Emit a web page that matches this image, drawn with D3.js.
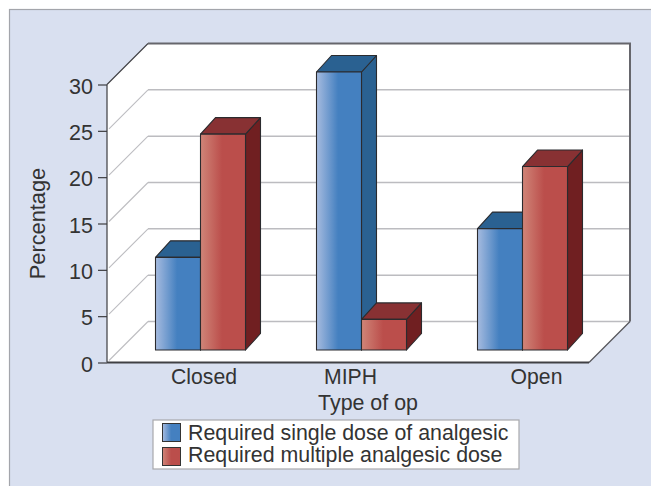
<!DOCTYPE html>
<html><head><meta charset="utf-8">
<script src="https://cdn.jsdelivr.net/npm/d3@7"></script>
<style>html,body{margin:0;padding:0;background:#fff}svg{display:block}text{font-family:"Liberation Sans",Arial,sans-serif;fill:#333}</style>
</head><body><svg id="c" width="651" height="486"></svg>
<script>
const categories = ["Closed", "MIPH", "Open"];
const seriesNames = ["Required single dose of analgesic", "Required multiple analgesic dose"];
const singleDose = [10, 30, 13.1];
const multipleDose = [23.3, 3.3, 19.8];
const yTicks = [0, 5, 10, 15, 20, 25, 30];
const labelNudge = [3.5, -11, 14];

const svg = d3.select("#c");
const W = 651, H = 486;
const defs = svg.append("defs");
function grad(id, a, b) {
  const g = defs.append("linearGradient").attr("id", id);
  g.append("stop").attr("offset", "0").attr("stop-color", a);
  g.append("stop").attr("offset", "0.48").attr("stop-color", b);
  g.append("stop").attr("offset", "1").attr("stop-color", b);
}
grad("gb", "#a6bbdf", "#4480c0");
grad("gr", "#d08578", "#bb4e4b");

svg.append("rect").attr("x", 9.5).attr("y", 9.5).attr("width", W + 10).attr("height", H + 10)
  .attr("fill", "#d9e0f0").attr("stroke", "#a3a5ab").attr("stroke-width", 1.2);

const y = d3.scaleLinear().domain([0, 30]).range([362.5, 84.5]);
const left = 107, right = 589, depth = 41;
const x = d3.scaleBand().domain(categories).range([120, 603]);
const xs = d3.scaleBand().domain(seriesNames).range([-45, 45]);
const barShift = y(0) - 350;
const yBar = v => y(v) - barShift;
const bd = { dx: 15, dy: 16.5 };

// walls
const line = d3.line();
svg.append("path").attr("fill", "#fff").attr("d", line([
  [left, y(30)], [left + depth, y(30) - depth], [right + depth, y(30) - depth],
  [right + depth, y(0) - depth], [right, y(0)], [left, y(0)]
]) + "Z");

// gridlines
const grid = svg.append("g").attr("fill", "none").attr("stroke", "#bcbcc0");
yTicks.filter(t => t < 30).forEach(t => {
  grid.append("path").attr("stroke-width", 1.1).attr("d", line([[left + 2, y(t) - 2], [left + depth, y(t) - depth]]));
  grid.append("path").attr("stroke-width", 1.5).attr("d", line([[left + depth, y(t) - depth], [right + depth, y(t) - depth]]));
});

// frame
const frame = svg.append("g").attr("fill", "none");
frame.append("path").attr("stroke", "#3c3c40").attr("stroke-width", 1.1)
  .attr("d", line([[left, y(30)], [left + depth, y(30) - depth]]));
frame.append("path").attr("stroke", "#66666c").attr("stroke-width", 2)
  .attr("d", line([[left + depth, y(30) - depth], [right + depth, y(30) - depth], [right + depth, y(0) - depth]]));
frame.append("path").attr("stroke", "#55555a").attr("stroke-width", 1.2)
  .attr("d", line([[right + depth, y(0) - depth], [right, y(0)]]));

// bars
const palette = [
  { face: "url(#gb)", top: "#2a6191", side: "#2a6191" },
  { face: "url(#gr)", top: "#883133", side: "#701f21" }
];
function bar(gx, w, v, c) {
  const g = svg.append("g").attr("stroke", "#2b2b2e").attr("stroke-width", 1.1).attr("stroke-linejoin", "round");
  const t = yBar(v), b = yBar(0);
  g.append("path").attr("fill", c.side).attr("d", line([[gx + w, t], [gx + w + bd.dx, t - bd.dy], [gx + w + bd.dx, b - bd.dy], [gx + w, b]]) + "Z");
  g.append("path").attr("fill", c.top).attr("d", line([[gx, t], [gx + bd.dx, t - bd.dy], [gx + w + bd.dx, t - bd.dy], [gx + w, t]]) + "Z");
  g.append("rect").attr("x", gx).attr("y", t).attr("width", w).attr("height", b - t).attr("fill", c.face);
}
categories.forEach((cat, i) => {
  const cx = x(cat) + x.bandwidth() / 2;
  [singleDose, multipleDose].forEach((arr, s) => {
    const k = seriesNames[s];
    bar(cx + xs(k), xs.bandwidth(), arr[i], palette[s]);
  });
});

// axes
const yAxis = d3.axisLeft(y).tickValues(yTicks).tickSize(9).tickPadding(5).tickFormat(d3.format("d"));
const ga = svg.append("g").attr("transform", `translate(${left},0)`).call(yAxis);
ga.select(".domain").attr("stroke", "#3c3c40").attr("stroke-width", 1.2).attr("d", `M0,${y(30)}V${y(0)}`);
ga.selectAll("line").attr("stroke", "#3c3c40").attr("stroke-width", 1.2);
ga.selectAll("text").attr("font-size", 21.5).attr("dy", "0.4em").attr("fill", "#333").style("font-family", '"Liberation Sans",Arial,sans-serif');

svg.append("path").attr("fill", "none").attr("stroke", "#404044").attr("stroke-width", 1.8)
  .attr("d", line([[left, y(0)], [right, y(0)]]));

categories.forEach((cat, i) => {
  svg.append("text").attr("x", x(cat) + x.bandwidth() / 2 + labelNudge[i]).attr("y", 384)
    .attr("text-anchor", "middle").attr("font-size", 21.2).text(cat);
});
svg.append("text").attr("x", 368).attr("y", 410).attr("text-anchor", "middle").attr("font-size", 21.4).text("Type of op");
svg.append("text").attr("transform", "translate(45,223.5) rotate(-90)").attr("text-anchor", "middle").attr("font-size", 21.8).text("Percentage");

// legend
const lg = svg.append("g");
lg.append("rect").attr("x", 153).attr("y", 420).attr("width", 366).attr("height", 49)
  .attr("fill", "#fff").attr("stroke", "#a8a8ac").attr("stroke-width", 1.2);
seriesNames.forEach((n, i) => {
  const yy = 423.5 + i * 24;
  lg.append("rect").attr("x", 162.5).attr("y", yy).attr("width", 18).attr("height", 18)
    .attr("fill", palette[i].face).attr("stroke", "#333").attr("stroke-width", 1);
  lg.append("text").attr("x", 188).attr("y", 440 + i * 22).attr("font-size", 21.35).text(n);
});
</script></body></html>
